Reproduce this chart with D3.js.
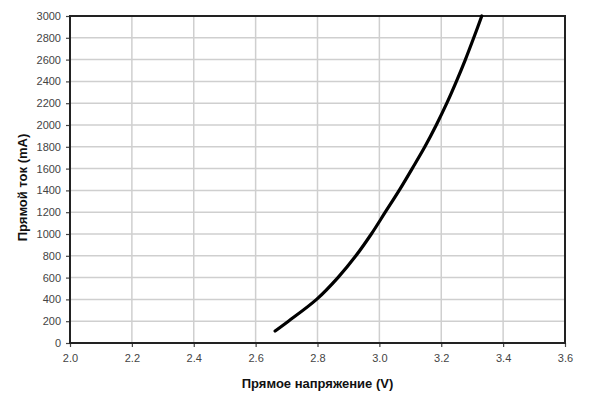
<!DOCTYPE html>
<html>
<head>
<meta charset="utf-8">
<script src="https://cdn.jsdelivr.net/npm/d3@7"></script>
<style>
  html, body { margin: 0; padding: 0; background: #fff; }
  svg { display: block; font-family: "Liberation Sans", Arial, sans-serif; }
  .tick text { fill: #444; font-size: 11px; }
  .axis-title { font-weight: bold; font-size: 13px; fill: #111; }
</style>
</head>
<body>
<div id="chart"></div>
<script>
"use strict";
// forward I-V curve
const voltage = [2.663, 2.706, 2.797, 2.866, 2.924, 2.974, 3.019, 3.064, 3.106, 3.147, 3.184, 3.218, 3.249, 3.278, 3.305, 3.331];
const current = [110, 200, 400, 600, 800, 1000, 1200, 1400, 1600, 1800, 2000, 2200, 2400, 2600, 2800, 3000];
const xTicks = [2.0, 2.2, 2.4, 2.6, 2.8, 3.0, 3.2, 3.4, 3.6];
const yTicks = d3.range(0, 3001, 200);
const xTitle = 'Прямое напряжение (V)';
const yTitle = 'Прямой ток (mA)';

const width = 600, height = 402;
const m = { left: 70, right: 35, top: 16, bottom: 59 };

const svg = d3.select('#chart').append('svg').attr('width', width).attr('height', height);

const x = d3.scaleLinear().domain([2.0, 3.6]).range([m.left, width - m.right]);
const y = d3.scaleLinear().domain([0, 3000]).range([height - m.bottom, m.top]);

// grid
const grid = svg.append('g').attr('stroke', '#cfcfcf').attr('stroke-width', 1.5);
grid.selectAll('line.v').data(xTicks.slice(1, -1)).enter().append('line')
  .attr('x1', (d) => x(d)).attr('x2', (d) => x(d)).attr('y1', y(0)).attr('y2', y(3000));
grid.selectAll('line.h').data(yTicks.slice(1, -1)).enter().append('line')
  .attr('x1', x(2.0)).attr('x2', x(3.6)).attr('y1', (d) => y(d)).attr('y2', (d) => y(d));

// axes
const xAxis = svg.append('g').attr('transform', 'translate(0,' + y(0) + ')')
  .call(d3.axisBottom(x).tickValues(xTicks).tickFormat(d3.format('.1f')).tickSize(4).tickPadding(7));
const yAxis = svg.append('g').attr('transform', 'translate(' + x(2.0) + ',0)')
  .call(d3.axisLeft(y).tickValues(yTicks).tickFormat(d3.format('d')).tickSize(4).tickPadding(5));
[xAxis, yAxis].forEach((a) => {
  a.select('.domain').remove();
  a.selectAll('.tick line').attr('stroke', '#444').attr('stroke-width', 1.2);
  a.selectAll('.tick text').attr('font-family', null).attr('font-size', null);
});

// frame
svg.append('rect')
  .attr('x', x(2.0)).attr('y', y(3000)).attr('width', x(3.6) - x(2.0)).attr('height', y(0) - y(3000))
  .attr('fill', 'none').attr('stroke', '#222').attr('stroke-width', 2);

// curve
const pts = voltage.map((v, i) => [v, current[i]]);
svg.append('path').datum(pts)
  .attr('fill', 'none').attr('stroke', '#000').attr('stroke-width', 3.2).attr('stroke-linecap', 'round')
  .attr('d', d3.line().x((d) => x(d[0])).y((d) => y(d[1])).curve(d3.curveCatmullRom));

// titles
svg.append('text').attr('class', 'axis-title').attr('text-anchor', 'middle')
  .attr('x', (x(2.0) + x(3.6)) / 2).attr('y', 388).text(xTitle);
svg.append('text').attr('class', 'axis-title').attr('text-anchor', 'middle')
  .attr('transform', 'translate(27,' + (y(1500) + 8) + ') rotate(-90)').text(yTitle);
</script>
</body>
</html>
